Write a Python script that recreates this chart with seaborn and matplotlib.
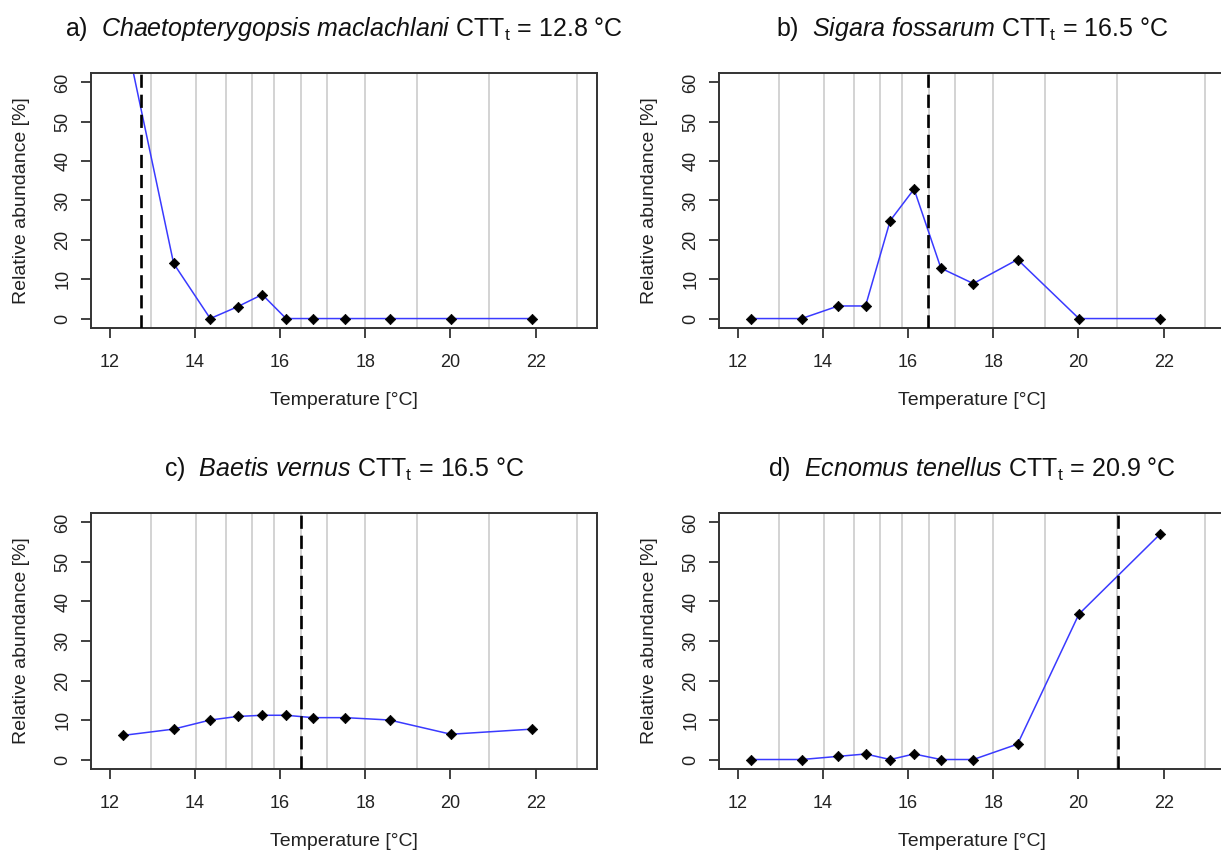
import matplotlib
matplotlib.use("Agg")
import matplotlib.pyplot as plt
import seaborn as sns
import pandas as pd

# ---- data ----
temperature = [12.31, 13.50, 14.36, 15.00, 15.58, 16.14, 16.77, 17.53, 18.57, 20.01, 21.92]
abund_a = [75.0, 14.0, 0.0, 3.0, 6.1, 0.0, 0.0, 0.0, 0.0, 0.0, 0.0]
abund_b = [0.0, 0.0, 3.2, 3.2, 24.9, 32.9, 12.8, 8.9, 15.0, 0.0, 0.0]
abund_c = [6.1, 7.7, 10.0, 10.9, 11.2, 11.2, 10.6, 10.6, 10.0, 6.4, 7.7]
abund_d = [0.0, 0.0, 0.8, 1.4, 0.0, 1.4, 0.0, 0.0, 3.9, 36.8, 57.1]
class_bounds = [12.98, 14.02, 14.73, 15.33, 15.86, 16.48, 17.11, 17.99, 19.21, 20.90, 22.97]
ctt_lines = [12.74, 16.47, 16.49, 20.92]
panel_letters = ["a)", "b)", "c)", "d)"]
species = ["Chaetopterygopsis maclachlani", "Sigara fossarum", "Baetis vernus", "Ecnomus tenellus"]
ctt_labels = ["12.8", "16.5", "16.5", "20.9"]
x_ticks = [12, 14, 16, 18, 20, 22]
y_ticks = [0, 10, 20, 30, 40, 50, 60]

sns.set_style("white")
plt.rcParams['font.family'] = ['Liberation Sans', 'DejaVu Sans']
plt.rcParams['mathtext.fontset'] = 'custom'
plt.rcParams['mathtext.rm'] = 'Liberation Sans'
plt.rcParams['mathtext.it'] = 'Liberation Sans:italic'

W, H = 1221, 850
fig = plt.figure(figsize=(W / 100, H / 100), dpi=100)

# axes rectangles in pixels: left, right, top, bottom
rects = [(91, 597, 73, 328), (719, 1225, 73, 328),
         (91, 597, 513, 769), (719, 1225, 513, 769)]
series = [abund_a, abund_b, abund_c, abund_d]

for i in range(4):
    l, r, t, b = rects[i]
    ax = fig.add_axes([l / W, 1 - b / H, (r - l) / W, (b - t) / H])
    df = pd.DataFrame({"Temperature": temperature, "Abundance": series[i]})
    for xb in class_bounds:
        ax.axvline(xb, color="#d0d0d0", lw=1.3, zorder=0)
    sns.lineplot(data=df, x="Temperature", y="Abundance", sort=False, color="#3a3aff",
                 lw=1.1, ax=ax, zorder=2)
    sns.scatterplot(data=df, x="Temperature", y="Abundance", marker="D", s=28,
                    color="black", edgecolor="black", linewidth=0.5, ax=ax, zorder=3)
    ax.axvline(ctt_lines[i], color="black", lw=1.9, dashes=(5, 2.6), zorder=4)
    ax.set_xlim(11.56, 23.44)
    ax.set_ylim(-2.4, 62.4)
    ax.set_xticks(x_ticks)
    ax.set_yticks(y_ticks)
    ax.set_yticklabels([str(v) for v in y_ticks], rotation=90, va="center")
    ax.tick_params(axis="both", which="major", direction="out", length=7.5, width=1.3,
                   color="#333333", labelsize=13, labelcolor="#222222",
                   bottom=True, left=True)
    ax.tick_params(axis="x", pad=11.5)
    ax.tick_params(axis="y", pad=6.5)
    for sp in ax.spines.values():
        sp.set_color("#333333")
        sp.set_linewidth(1.4)
    ax.set_xlabel("Temperature [°C]", fontsize=14, color="#222222", labelpad=15)
    ax.set_ylabel("Relative abundance [%]", fontsize=14, color="#222222", labelpad=17.5)
    sp_name = species[i].replace(" ", r"\ ")
    title = panel_letters[i] + "  $\\mathit{" + sp_name + "}$ CTT$_{\\mathrm{t}}$ = " + ctt_labels[i] + " °C"
    cx = (l + min(r, 1225)) / 2
    fig.text(cx / W, 1 - (t - 37) / H, title, ha="center", va="baseline",
             fontsize=18, color="#111111")

fig.savefig("out.png", dpi=100, facecolor="white")
